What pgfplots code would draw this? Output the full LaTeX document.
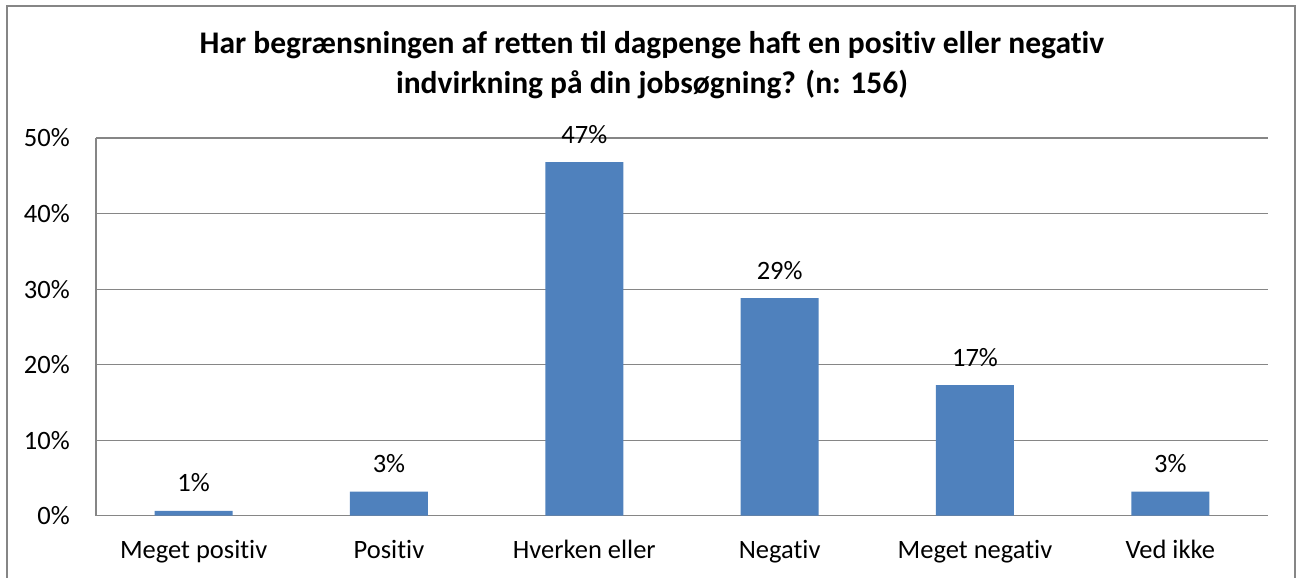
\documentclass[border=0pt]{standalone}
\usepackage{pgfplots}
\pgfplotsset{compat=1.18}
\usepackage{fontspec}
\setmainfont{Carlito}
\newcommand{\ti}{t\kern0pt i}
\definecolor{barblue}{HTML}{4F81BD}
\definecolor{gridgray}{HTML}{868686}
\begin{document}
\begin{tikzpicture}
\path[use as bounding box] (0,0) rectangle (1298bp,578bp);
\draw[gridgray, line width=1.3bp] (7bp,-5bp) -- (7bp,572bp) -- (1295bp,572bp) -- (1295bp,-5bp);
\node[font=\fontsize{31.5bp}{36bp}\selectfont\bfseries, anchor=base] at (652bp,524bp) {Har begrænsningen af retten til dagpenge haft en posi\ti v eller nega\ti v};
\node[font=\fontsize{31.5bp}{36bp}\selectfont\bfseries, anchor=base] at (652bp,484bp) {indvirkning på din jobsøgning? (n: 156)};
\begin{axis}[
  at={(96bp,62.3bp)}, anchor=south west,
  scale only axis, width=1172bp, height=377.7bp,
  xmin=-0.5, xmax=5.5, ymin=0, ymax=50,
  ytick={0,10,20,30,40,50},
  yticklabel={\pgfmathprintnumber{\tick}\%},
  xtick={0,1,2,3,4,5},
  xticklabels={Meget posi\ti v,Posi\ti v,Hverken eller,Nega\ti v,Meget nega\ti v,Ved ikke},
  axis x line*=bottom, axis y line*=left,
  axis line style={-, gridgray, line width=1.1bp},
  ymajorgrids, grid style={gridgray, line width=1.1bp},
  major tick length=0,
  tick label style={font=\fontsize{26.5bp}{30bp}\selectfont, inner sep=0pt},
  yticklabel style={anchor=east, xshift=-26bp},
  xticklabel style={anchor=base, yshift=-42.6bp},
  /pgf/number format/assume math mode=true,
  clip=false,
  ybar, bar width=78bp,
  nodes near coords={\pgfmathprintnumber[fixed,precision=0]{\pgfplotspointmeta}\%},
  every node near coord/.append style={font=\fontsize{26.5bp}{30bp}\selectfont, anchor=base, inner sep=0pt, yshift=19bp},
]
\addplot[draw=none, fill=barblue] coordinates {(0,0.64) (1,3.2) (2,46.8) (3,28.8) (4,17.3) (5,3.2)};
\end{axis}
\end{tikzpicture}
\end{document}
